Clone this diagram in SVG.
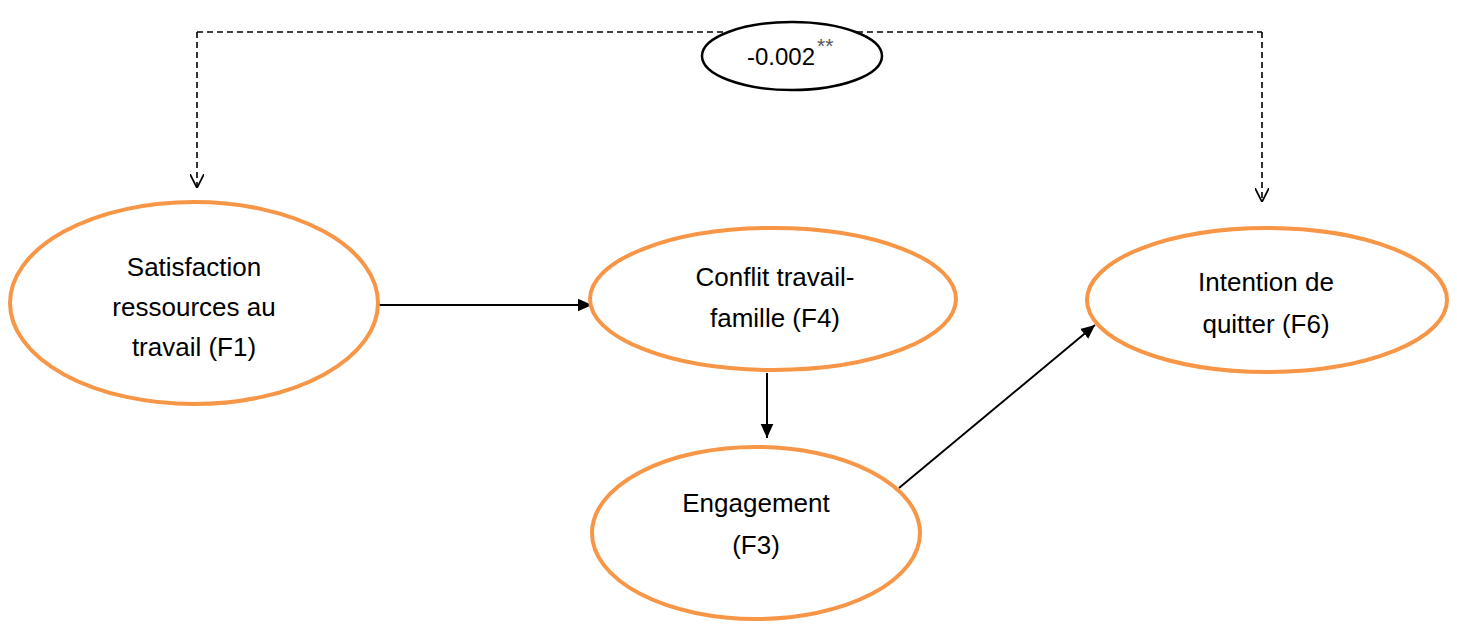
<svg xmlns="http://www.w3.org/2000/svg" width="1457" height="629" viewBox="0 0 1457 629">
  <defs>
    <marker id="solidBig" viewBox="0 0 10 10" refX="10" refY="5" markerWidth="14" markerHeight="14" markerUnits="userSpaceOnUse" orient="auto">
      <path d="M0,0.5 L10,5 L0,9.5 z" fill="#000"/>
    </marker>
    <marker id="open" viewBox="0 0 10 10" refX="10" refY="5" markerWidth="14" markerHeight="14" markerUnits="userSpaceOnUse" orient="auto">
      <path d="M0,0 L10,5 L0,10" fill="none" stroke="#000" stroke-width="1.2"/>
    </marker>
  </defs>
  <style>
    .node { fill: #fff; stroke: #f79646; stroke-width: 4; }
    .coef { fill: #fff; stroke: #000; stroke-width: 2.5; }
    .lbl { font-family: "Liberation Sans", Arial, sans-serif; font-size: 26px; fill: #000; text-anchor: middle; }
    .val { font-family: "Liberation Sans", Arial, sans-serif; font-size: 24px; fill: #000; text-anchor: start; }
    .sup { font-size: 21px; fill: #555; }
    .edge { stroke: #000; stroke-width: 2; fill: none; }
    .dash { stroke: #000; stroke-width: 1.6; fill: none; stroke-dasharray: 6 4; }
  </style>
  <rect width="1457" height="629" fill="#fff"/>

  <g id="connectors">
    <path class="dash" d="M197,32 H1262"/>
    <path class="dash" d="M197,32 V188" marker-end="url(#open)"/>
    <path class="dash" d="M1262,32 V202" marker-end="url(#open)"/>
    <path class="edge" d="M378,305 H592" marker-end="url(#solidBig)"/>
    <path class="edge" d="M767,373 V438" marker-end="url(#solidBig)"/>
    <path class="edge" d="M899,488 L1095,325" marker-end="url(#solidBig)"/>
  </g>

  <g id="coef">
    <ellipse class="coef" cx="792" cy="56" rx="90" ry="34"/>
    <text class="val" x="747" y="65">-0.002<tspan class="sup" dx="2" dy="-12">**</tspan></text>
  </g>

  <g id="f1">
    <ellipse class="node" cx="194" cy="303" rx="184" ry="101"/>
    <text class="lbl" x="194" y="276">Satisfaction</text>
    <text class="lbl" x="194" y="316">ressources au</text>
    <text class="lbl" x="194" y="356">travail (F1)</text>
  </g>

  <g id="f4">
    <ellipse class="node" cx="773" cy="299" rx="183" ry="71"/>
    <text class="lbl" x="775" y="286">Conflit travail-</text>
    <text class="lbl" x="775" y="327">famille (F4)</text>
  </g>

  <g id="f3">
    <ellipse class="node" cx="756" cy="533" rx="164" ry="86"/>
    <text class="lbl" x="756" y="512">Engagement</text>
    <text class="lbl" x="756" y="554">(F3)</text>
  </g>

  <g id="f6">
    <ellipse class="node" cx="1267" cy="300" rx="180" ry="72"/>
    <text class="lbl" x="1266" y="291">Intention de</text>
    <text class="lbl" x="1266" y="333">quitter (F6)</text>
  </g>
</svg>
